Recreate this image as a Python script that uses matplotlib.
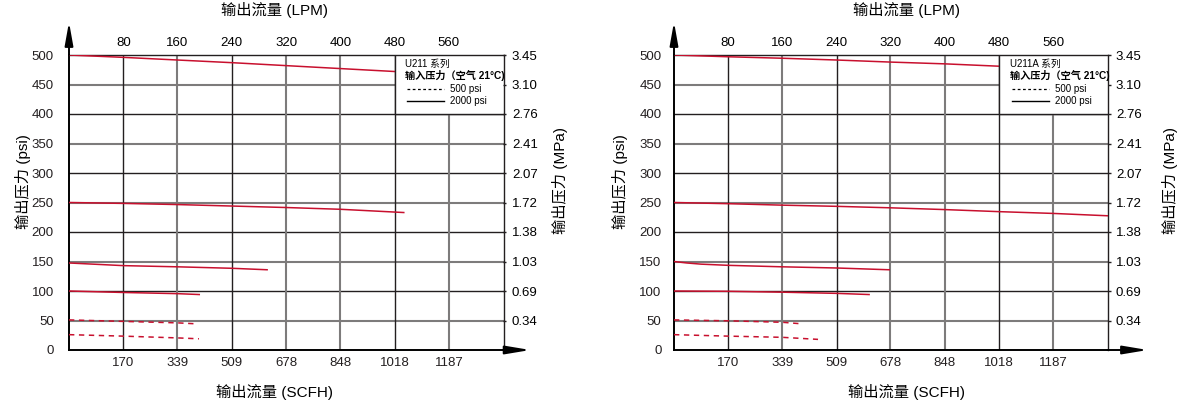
import matplotlib
matplotlib.use("Agg")
import matplotlib.pyplot as plt
from matplotlib.ticker import FormatStrFormatter

plt.rcParams["font.family"] = ["Liberation Sans", "Noto Sans CJK SC", "DejaVu Sans"]

# ---- data (x in SCFH, y in psi) ----
scfh_ticks = [170, 339, 509, 678, 848, 1018, 1187]
lpm_ticks = [80, 160, 240, 320, 400, 480, 560]
psi_ticks = [0, 50, 100, 150, 200, 250, 300, 350, 400, 450, 500]
mpa_ticks = [0.34, 0.69, 1.03, 1.38, 1.72, 2.07, 2.41, 2.76, 3.10, 3.45]
x_max = 1357.6
psi_per_mpa = 500 / 3.45
scfh_per_lpm = 1187 / 560

# U211 (left)
u211_500_x = [0, 170, 339, 509, 678, 848, 1018]
u211_500_y = [500, 496, 491.5, 487, 482, 477, 472]
u211_250_x = [0, 170, 339, 509, 678, 848, 1046]
u211_250_y = [250, 248.5, 246.5, 244, 241.5, 238.5, 233]
u211_150_x = [0, 170, 339, 509, 619]
u211_150_y = [147.5, 143, 141, 138.5, 136]
u211_100_x = [0, 170, 339, 407]
u211_100_y = [100, 97.5, 95.5, 94]
u211_50_x = [0, 170, 339, 393]
u211_50_y = [51, 48.5, 46, 44.5]
u211_25_x = [0, 170, 339, 406]
u211_25_y = [26, 23.5, 20.5, 19]

# U211A (right)
u211a_500_x = [0, 170, 339, 509, 678, 848, 1018]
u211a_500_y = [500, 497, 494.5, 491.5, 488, 485, 481]
u211a_250_x = [0, 170, 339, 509, 678, 848, 1018, 1187, 1358]
u211a_250_y = [250, 248, 245.5, 243.5, 241, 238, 234.5, 231.5, 227.5]
u211a_150_x = [0, 40, 85, 170, 339, 509, 674]
u211a_150_y = [150, 147.5, 145.5, 143.5, 141, 139, 136]
u211a_100_x = [0, 170, 339, 509, 611]
u211a_100_y = [100, 99.5, 98, 96, 94]
u211a_50_x = [0, 170, 339, 397]
u211a_50_y = [51, 49.5, 47, 44.5]
u211a_25_x = [0, 170, 339, 451]
u211a_25_y = [26, 23.5, 21.5, 18]

RED = "#c8102e"
BLACK = "#231f20"
GRAY = "#7d7b7b"

W, H = 1191, 403
fig = plt.figure(figsize=(W / 100, H / 100), dpi=100)


def px_ax(x0, x1, y0, y1):
    return fig.add_axes([x0 / W, 1 - y1 / H, (x1 - x0) / W, (y1 - y0) / H])


def make_chart(ax, series, name, cfg):
    ax.set_xlim(0, x_max)
    ax.set_ylim(0, 500)

    # grid: multiples of 100 black, odd 50s gray
    for v in psi_ticks[1:-1]:
        if v % 100 == 0:
            ax.axhline(v, color=BLACK, lw=1.0, zorder=1)
        else:
            ax.axhline(v, color=GRAY, lw=1.5, zorder=1)
    vcols = [BLACK, GRAY, BLACK, GRAY, GRAY, BLACK, GRAY]
    for v, c in zip(scfh_ticks, vcols):
        ax.axvline(v, color=c, lw=1.0 if c == BLACK else 1.5, zorder=1)

    for (xs, ys, dashed) in series:
        if dashed:
            ax.plot(xs, ys, color=RED, lw=1.1, dashes=(3.5, 3), zorder=3)
        else:
            ax.plot(xs, ys, color=RED, lw=1.1, zorder=3)

    for s in ["top", "right"]:
        ax.spines[s].set_color(BLACK)
        ax.spines[s].set_linewidth(1.0)
    for s in ["left", "bottom"]:
        ax.spines[s].set_color("black")
        ax.spines[s].set_linewidth(1.4)

    ax.set_xticks(scfh_ticks)
    ax.set_yticks(psi_ticks)
    ax.tick_params(length=0, labelsize=9.5, colors="#231f20")
    ax.tick_params(axis="y", pad=cfg["ypad"])
    ax.tick_params(axis="x", pad=5)

    xl = ax.set_xlabel("输出流量 (SCFH)", fontsize=11, va="center")
    ax.xaxis.set_label_coords(cfg["title_x"], -0.142)
    yl = ax.set_ylabel("输出压力 (psi)", fontsize=11, va="center")
    ax.yaxis.set_label_coords(cfg["ylab_x"], 0.57)

    # top LPM axis
    top = ax.twiny()
    top.set_xlim(0, x_max / scfh_per_lpm)
    top.set_xticks(lpm_ticks)
    top.tick_params(length=0, labelsize=9.5, pad=4)
    top.set_xlabel("输出流量 (LPM)", fontsize=11, va="center")
    top.xaxis.set_label_coords(cfg["title_x"], 1.152)
    for s in top.spines.values():
        s.set_visible(False)

    # right MPa axis
    right = ax.twinx()
    right.set_ylim(0, 500 / psi_per_mpa)
    right.set_yticks(mpa_ticks)
    right.yaxis.set_major_formatter(FormatStrFormatter("%.2f"))
    right.tick_params(length=2, width=1, labelsize=9.5, pad=4, color=BLACK)
    right.set_ylabel("输出压力 (MPa)", fontsize=11, va="center")
    right.yaxis.set_label_coords(cfg["rlab_x"], 0.575)
    for s in right.spines.values():
        s.set_visible(False)

    # axis arrows
    ax.annotate("", xy=(0, 1.112), xytext=(0, 1.0), xycoords="axes fraction",
                arrowprops=dict(arrowstyle="-|>,head_length=1.4,head_width=0.25",
                                mutation_scale=10, color="black", lw=1.4,
                                shrinkA=0, shrinkB=0), annotation_clip=False)
    ax.annotate("", xy=(cfg["arrow_x"], 0), xytext=(1.0, 0), xycoords="axes fraction",
                arrowprops=dict(arrowstyle="-|>,head_length=1.5,head_width=0.25",
                                mutation_scale=10, color="black", lw=1.4,
                                shrinkA=0, shrinkB=0), annotation_clip=False)

    # legend box
    ax.add_patch(plt.Rectangle((0.75, 0.8), 0.25, 0.2, transform=ax.transAxes,
                               facecolor="white", edgecolor=BLACK, lw=1.0, zorder=4))
    ax.text(0.774, 0.969, name + " 系列", transform=ax.transAxes, fontsize=7,
            va="center", ha="left", zorder=5)
    ax.text(0.774, 0.932, "输入压力（空气 21°C)", transform=ax.transAxes, fontsize=7.3,
            va="center", ha="left", zorder=5, fontweight="bold")
    ax.plot([0.779, 0.864], [0.885, 0.885], transform=ax.transAxes, color="black",
            lw=0.9, dashes=(2.2, 2), zorder=5)
    ax.text(0.878, 0.885, "500 psi", transform=ax.transAxes, fontsize=7,
            va="center", ha="left", zorder=5)
    ax.plot([0.779, 0.864], [0.844, 0.844], transform=ax.transAxes, color="black",
            lw=1.0, zorder=5)
    ax.text(0.878, 0.844, "2000 psi", transform=ax.transAxes, fontsize=7,
            va="center", ha="left", zorder=5)


left_series = [
    (u211_500_x, u211_500_y, False),
    (u211_250_x, u211_250_y, False),
    (u211_150_x, u211_150_y, False),
    (u211_100_x, u211_100_y, False),
    (u211_50_x, u211_50_y, True),
    (u211_25_x, u211_25_y, True),
]
right_series = [
    (u211a_500_x, u211a_500_y, False),
    (u211a_250_x, u211a_250_y, False),
    (u211a_150_x, u211a_150_y, False),
    (u211a_100_x, u211a_100_y, False),
    (u211a_50_x, u211a_50_y, True),
    (u211a_25_x, u211a_25_y, True),
]

ax1 = px_ax(69, 503.5, 55, 350)
make_chart(ax1, left_series, "U211",
           dict(ypad=11, title_x=0.472, ylab_x=-0.106, rlab_x=1.131, arrow_x=1.062))

ax2 = px_ax(674, 1107.5, 55, 350)
make_chart(ax2, right_series, "U211A",
           dict(ypad=9, title_x=0.537, ylab_x=-0.124, rlab_x=1.144, arrow_x=1.093))

fig.savefig("out.png", dpi=100)
